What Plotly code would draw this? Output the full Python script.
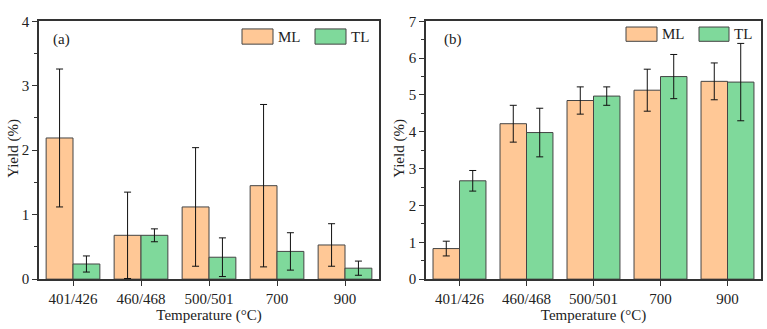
import plotly.graph_objects as go

categories = ["401/426", "460/468", "500/501", "700", "900"]

# Panel (a)
a_ml = [2.19, 0.68, 1.12, 1.45, 0.53]
a_ml_err = [1.07, 0.67, 0.92, 1.26, 0.33]
a_tl = [0.235, 0.68, 0.34, 0.43, 0.17]
a_tl_err = [0.125, 0.10, 0.30, 0.29, 0.11]

# Panel (b)
b_ml = [0.83, 4.22, 4.85, 5.13, 5.37]
b_ml_err = [0.20, 0.50, 0.37, 0.57, 0.50]
b_tl = [2.67, 3.98, 4.97, 5.50, 5.35]
b_tl_err = [0.28, 0.66, 0.25, 0.60, 1.05]

ML_COLOR = "#FFC896"
TL_COLOR = "#7FD99B"
EDGE = "#444444"
FONT = "Liberation Serif, Times New Roman, serif"
W, H = 767, 329

fig = go.Figure()

def add_bars(y, err, color, name, xa, ya):
    fig.add_trace(go.Bar(
        x=categories, y=y, name=name, xaxis=xa, yaxis=ya,
        marker=dict(color=color, line=dict(color=EDGE, width=1)),
        error_y=dict(type="data", array=err, visible=True,
                     color="#111111", thickness=1, width=3.5),
        showlegend=False,
    ))

add_bars(a_ml, a_ml_err, ML_COLOR, "ML", "x", "y")
add_bars(a_tl, a_tl_err, TL_COLOR, "TL", "x", "y")
add_bars(b_ml, b_ml_err, ML_COLOR, "ML", "x2", "y2")
add_bars(b_tl, b_tl_err, TL_COLOR, "TL", "x2", "y2")

def px_x(p):
    return p / W

def px_y(p):
    return 1 - p / H

ydom = [px_y(285), px_y(14)]

axis_common = dict(
    showline=True, linecolor="#333333", linewidth=1.5, mirror=True,
    ticks="outside", ticklen=5, tickwidth=1.2, tickcolor="#333333",
    showgrid=False, zeroline=False,
    tickfont=dict(family=FONT, size=15, color="#222222"),
    title_font=dict(family=FONT, size=15, color="#222222"),
)

fig.update_layout(
    width=W, height=H,
    margin=dict(l=0, r=0, t=0, b=0),
    paper_bgcolor="white", plot_bgcolor="white",
    barmode="group", bargap=0.21, bargroupgap=0,
    xaxis=dict(domain=[px_x(39), px_x(379)], anchor="y", type="category",
               range=[-0.5, 4.5], title=dict(text="Temperature (°C)", standoff=0),
               **axis_common),
    yaxis=dict(domain=ydom, anchor="x", range=[0, 4], dtick=1,
               minor=dict(dtick=0.5, ticks="outside", ticklen=3, tickcolor="#333333"),
               **axis_common),
    xaxis2=dict(domain=[px_x(426), px_x(761)], anchor="y2", type="category",
                range=[-0.5, 4.5], title=dict(text="Temperature (°C)", standoff=0),
                **axis_common),
    yaxis2=dict(domain=ydom, anchor="x2", range=[0, 7], dtick=1,
                minor=dict(dtick=0.5, ticks="outside", ticklen=3, tickcolor="#333333"),
                **axis_common),
)

shapes = []
annotations = []

def legend_entry(x0, x1, y0, y1, color, label):
    shapes.append(dict(type="rect", xref="paper", yref="paper",
                       x0=px_x(x0), x1=px_x(x1), y0=px_y(y1), y1=px_y(y0),
                       fillcolor=color, line=dict(color=EDGE, width=1)))
    annotations.append(dict(xref="paper", yref="paper", x=px_x(x1 + 3),
                            y=px_y((y0 + y1) / 2), text=label, showarrow=False,
                            xanchor="left", yanchor="middle",
                            font=dict(family=FONT, size=15, color="#222222")))

legend_entry(242, 273, 22, 38, ML_COLOR, "ML")
legend_entry(315, 346, 22, 38, TL_COLOR, "TL")
legend_entry(626, 657, 20, 35, ML_COLOR, "ML")
legend_entry(699, 729, 20, 35, TL_COLOR, "TL")

for txt, x, y in [("(a)", 51, 33), ("(b)", 442, 33)]:
    annotations.append(dict(xref="paper", yref="paper", x=px_x(x), y=px_y(y),
                            text=txt, showarrow=False, xanchor="left",
                            yanchor="middle",
                            font=dict(family=FONT, size=15, color="#222222")))

for x in (14, 400):
    annotations.append(dict(xref="paper", yref="paper", x=px_x(x), y=px_y(148),
                            text="Yield (%)", showarrow=False, textangle=-90,
                            xanchor="center", yanchor="middle",
                            font=dict(family=FONT, size=15, color="#222222")))

fig.update_layout(shapes=shapes, annotations=annotations)

fig.write_html("out.html")
